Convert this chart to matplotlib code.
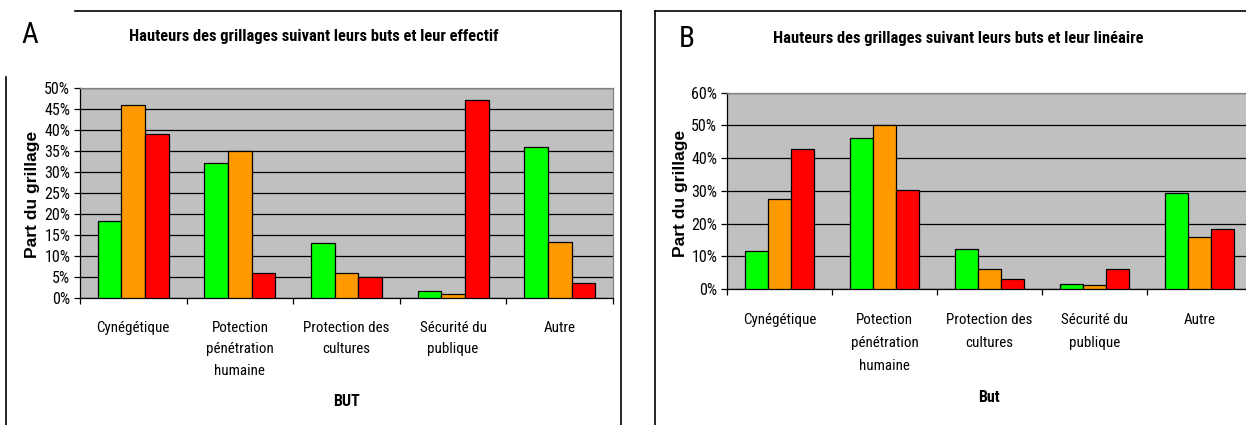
import matplotlib
matplotlib.use("Agg")
import matplotlib.pyplot as plt
import numpy as np
from matplotlib.lines import Line2D
from matplotlib.ticker import FuncFormatter, MultipleLocator, FixedLocator

categories = ["Cynégétique", "Potection\npénétration\nhumaine", "Protection des\ncultures",
              "Sécurité du\npublique", "Autre"]

# Panel A (effectif)
a_green = [18.3, 32.2, 13.0, 1.6, 35.9]
a_orange = [45.9, 35.1, 5.9, 0.9, 13.2]
a_red = [39.0, 5.9, 4.9, 47.3, 3.6]

# Panel B (linéaire)
b_green = [11.6, 46.2, 12.3, 1.5, 29.2]
b_orange = [27.4, 50.0, 6.1, 1.1, 15.8]
b_red = [42.7, 30.4, 3.1, 6.2, 18.4]

colors = ["#00FF00", "#FF9900", "#FF0000"]

NARROW = ["Roboto Condensed", "Liberation Sans", "DejaVu Sans"]
WIDE = ["Liberation Sans", "DejaVu Sans"]

W, H = 1246, 425
fig = plt.figure(figsize=(W / 100, H / 100), dpi=100)


def fx(px):
    return px / W


def fy(py):
    return 1 - py / H


def panel(rect, series, ymax, ystep, title, letter, letter_xy, title_xy,
          ylabel_xy, xlabel, xlabel_y, pad_px, lsp):
    ax = fig.add_axes(rect)
    ax.set_facecolor("#C0C0C0")
    x = np.arange(len(categories))
    bw = 0.222
    for i, (vals, c) in enumerate(zip(series, colors)):
        ax.bar(x + (i - 1) * bw, vals, width=bw, color=c, edgecolor="black",
               linewidth=0.9, zorder=3)
    ax.set_xlim(-0.5, len(categories) - 0.5)
    ax.set_ylim(0, ymax)
    ax.yaxis.set_major_locator(MultipleLocator(ystep))
    ax.yaxis.set_major_formatter(FuncFormatter(lambda v, p: f"{v:.0f}%"))
    ax.grid(axis="y", color="black", linewidth=0.9, zorder=1)
    ax.set_axisbelow(True)
    ax.set_xticks(x)
    ax.set_xticklabels(categories, fontfamily=NARROW, fontsize=10.8,
                       linespacing=lsp, va="top")
    ax.xaxis.set_minor_locator(FixedLocator(np.arange(len(categories) + 1) - 0.5))
    ax.tick_params(axis="x", which="major", length=0, pad=pad_px * 0.72)
    ax.tick_params(axis="x", which="minor", length=4, width=0.9, color="black")
    ax.tick_params(axis="y", length=4, width=0.9, color="black", pad=3,
                   labelsize=11.5)
    for t in ax.get_yticklabels():
        t.set_fontfamily(NARROW)
    ax.spines["left"].set_color("black")
    ax.spines["bottom"].set_color("black")
    ax.spines["top"].set_color("#808080")
    ax.spines["right"].set_color("#808080")
    for s in ax.spines.values():
        s.set_linewidth(0.9)
    fig.text(fx(letter_xy[0]), fy(letter_xy[1]), letter, fontfamily=NARROW,
             fontsize=21, ha="center", va="center")
    fig.text(fx(title_xy[0]), fy(title_xy[1]), title, fontfamily=NARROW,
             fontsize=11.9, fontweight="bold", ha="center", va="center")
    fig.text(fx(ylabel_xy[0]), fy(ylabel_xy[1]), "Part du grillage",
             fontfamily=WIDE, fontsize=12.5, fontweight="bold", rotation=90,
             ha="center", va="center")
    fig.text(fx(ylabel_xy[2]), fy(xlabel_y), xlabel, fontfamily=NARROW,
             fontsize=11.5, fontweight="bold", ha="center", va="center")
    return ax


# Panel A axes: x 80..613, y 88.3..297.7
panel([fx(80), fy(297.7), fx(613 - 80), (297.7 - 88.3) / H],
      [a_green, a_orange, a_red], 50, 5,
      "Hauteurs des grillages suivant leurs buts et leur effectif", "A",
      (30, 35), (314, 37), (32, 194, 346.5), "BUT", 402, 23, 1.68)

# Panel B axes: x 727..1252, y 92.7..289
panel([fx(727), fy(289), fx(1252 - 727), (289 - 92.7) / H],
      [b_green, b_orange, b_red], 60, 10,
      "Hauteurs des grillages suivant leurs buts et leur linéaire", "B",
      (687, 39), (958, 38), (680, 193, 989), "But", 398, 24, 1.84)

# Frame lines
lw = 1.2
fig.add_artist(Line2D([fx(75), fx(621)], [fy(10.5), fy(10.5)], color="black", lw=lw))
fig.add_artist(Line2D([fx(621), fx(621)], [fy(10.5), 0], color="black", lw=lw))
fig.add_artist(Line2D([fx(5.5), fx(5.5)], [fy(77), 0], color="black", lw=lw))
fig.add_artist(Line2D([fx(654.5), 1], [fy(10.5), fy(10.5)], color="black", lw=lw))
fig.add_artist(Line2D([fx(654.5), fx(654.5)], [fy(10.5), 0], color="black", lw=lw))

fig.savefig("out.png", dpi=100, facecolor="white")
